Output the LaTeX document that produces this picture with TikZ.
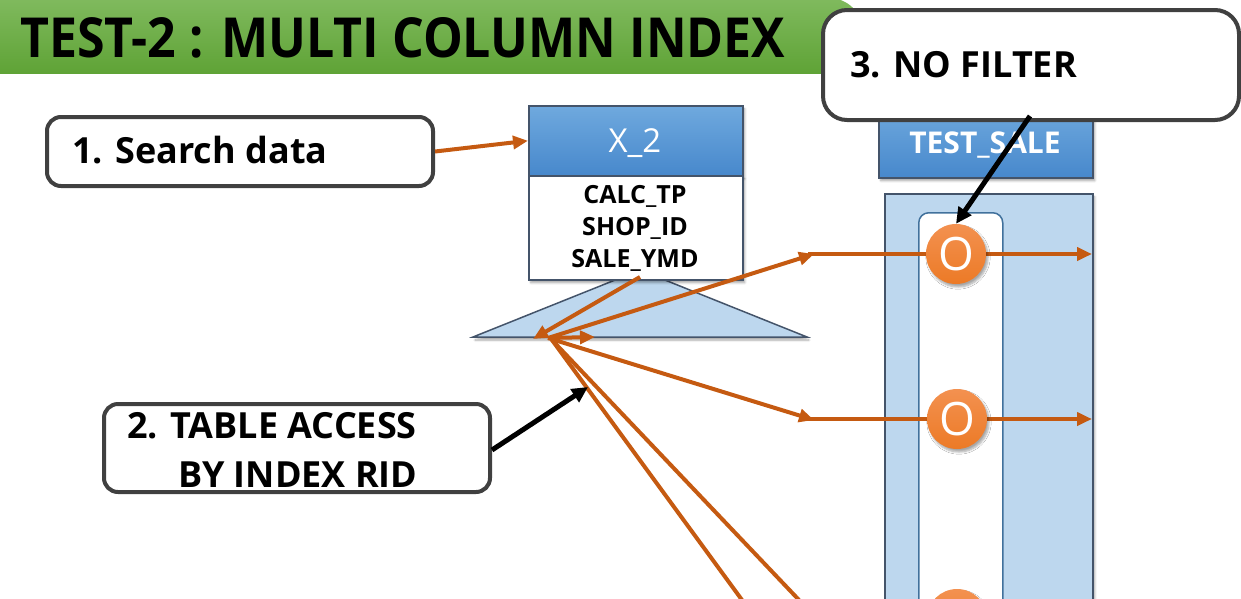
\documentclass[tikz,border=0pt]{standalone}
\usepackage{graphicx}
\usepackage{fontspec}
\setmainfont{Open Sans}
\usetikzlibrary{arrows.meta,shadows.blur}
\definecolor{orng}{HTML}{C55A11}
\definecolor{bord}{HTML}{44546A}
\definecolor{innerb}{HTML}{41719C}
\definecolor{lblue}{HTML}{BDD7EE}
\definecolor{htop}{HTML}{6FA9DE}
\definecolor{hbot}{HTML}{4788CC}
\definecolor{boxgray}{HTML}{404040}
\definecolor{gtop}{HTML}{80BA5E}
\definecolor{gbot}{HTML}{5FA336}
\definecolor{dtop}{HTML}{F39150}
\definecolor{dbot}{HTML}{EC7A26}
\begin{document}
\begin{tikzpicture}[x=1pt,y=-1pt,
  callout/.style={draw=boxgray, line width=4pt, rounded corners=14pt, fill=white, inner sep=0pt},
  shad/.style={blur shadow={shadow xshift=2pt, shadow yshift=-3pt, shadow blur steps=6, shadow opacity=35}},
  hdr/.style={draw=bord, line width=1.5pt, top color=htop, bottom color=hbot, inner sep=0pt, shad},
  body/.style={draw=bord, line width=1.5pt, fill=lblue, inner sep=0pt, shad},
  oarr/.style={draw=orng, line width=4pt, -{Triangle[length=15pt,width=13pt]}},
  oline/.style={draw=orng, line width=4pt},
  barr/.style={draw=black, line width=5pt, -{Triangle[length=16pt,width=15pt]}},
  dot/.style={circle, minimum size=60pt, inner sep=0pt, top color=dtop, bottom color=dbot, text=white, font=\fontsize{46}{46}\selectfont, shad},
  lbl/.style={font=\fontsize{36}{49}\selectfont\bfseries, inner sep=0pt, anchor=base west},
  col/.style={font=\fontsize{25}{25}\selectfont\bfseries, inner sep=0pt, anchor=base}
]
\useasboundingbox (0,0) rectangle (1241,598);
\clip (0,0) rectangle (1241,598);
% banner
\draw[draw=gbot, line width=2pt] (0,73) -- (1241,73);
\path[top color=gtop, bottom color=gbot] (-2,-2) [rounded corners=34pt] -- (863,-2) [sharp corners] -- (863,73) -- (-2,73) -- cycle;
\node[inner sep=0pt, anchor=south west] (title) at (20,58) {\resizebox{765pt}{40pt}{\bfseries TEST-2 : MULTI COLUMN INDEX}};

% triangle (index tree)
\coordinate (tA) at (640,270);
\coordinate (tL) at (473,337);
\coordinate (tR) at (807,337);
\path[draw=bord, line width=1.5pt, fill=lblue, shad] (tL) -- (tA) -- (tR) -- cycle;

% X_2 index
\node[hdr, anchor=north west, minimum width=214pt, minimum height=70pt] (x2h) at (528,105) {};
\node[draw=bord, line width=1.5pt, fill=white, inner sep=0pt, anchor=north west, minimum width=214pt, minimum height=104pt, shad] (x2b) at (528,175) {};
\node[font=\fontsize{33}{33}\selectfont, text=white, inner sep=0pt, anchor=base] (x2t) at (635,152) {X\_2};
\node[col] (c1t) at (635,203) {CALC\_TP};
\node[col] (c2t) at (635,235) {SHOP\_ID};
\node[col] (c3t) at (635,267) {SALE\_YMD};

% TEST_SALE table
\node[hdr, anchor=north west, minimum width=214pt, minimum height=72pt] (tsh) at (878,105) {};
\node[font=\fontsize{30}{30}\selectfont\bfseries, text=white, inner sep=0pt, anchor=base] (tst) at (985,153) {TEST\_SALE};
\node[body, anchor=north west, minimum width=208pt, minimum height=440pt] (tsb) at (884,193) {};
\node[draw=innerb, line width=1.5pt, fill=white, rounded corners=10pt, inner sep=0pt, anchor=north west, minimum width=84pt, minimum height=420pt] (col) at (918,212) {};

% hub coordinates
\coordinate (ix) at (640,277);
\coordinate (hL) at (533,339);
\coordinate (hub) at (548,338);
\coordinate (hR) at (595,337);
\coordinate (j1) at (814,254);
\coordinate (e1) at (1092,254);
\coordinate (j2) at (814,420);
\coordinate (e2) at (1092,419);
\coordinate (hb) at (552,340);
\coordinate (b1) at (742,600);
\coordinate (b2) at (799,600);

% orange connectors
\draw[oarr] (ix) -- (hL);
\draw[oarr] (hub) -- (hR);
\draw[oarr] (hub) -- (j1);
\draw[oarr] (hub) -- (j2);
\draw[oline] (hb) -- (b1);
\draw[oline] (hb) -- (b2);
\draw[oarr] (808,254) -- (e1);
\draw[oarr] (808,419) -- (e2);

% rows
\node[dot] (o1) at (956,254) {O};
\node[dot] (o2) at (957,419) {O};
\node[dot] (o3) at (957,619) {};

% callouts
\node[callout, anchor=north west, minimum width=386pt, minimum height=69pt] (k1) at (45,115) {};
\node[lbl] (k1t) at (72,163) {1. Search data};
\draw[oarr] (k1.east) -- (x2h.west);

\node[callout, anchor=north west, minimum width=386pt, minimum height=88pt] (k2) at (102,402) {};
\node[lbl] (k2t) at (127,438) {2. TABLE ACCESS};
\node[lbl] (k2u) at (178,487) {BY INDEX RID};
\coordinate (k2tip) at (588,387);
\draw[barr] (k2.east) ++(0,2) -- (k2tip);

\node[callout, rounded corners=24pt, anchor=north west, minimum width=416pt, minimum height=110pt] (k3) at (821,8) {};
\node[lbl] (k3t) at (850,77) {3. NO FILTER};
\coordinate (k3s) at (1030,116);
\draw[barr] (k3s) -- (o1.north);
\end{tikzpicture}
\end{document}
